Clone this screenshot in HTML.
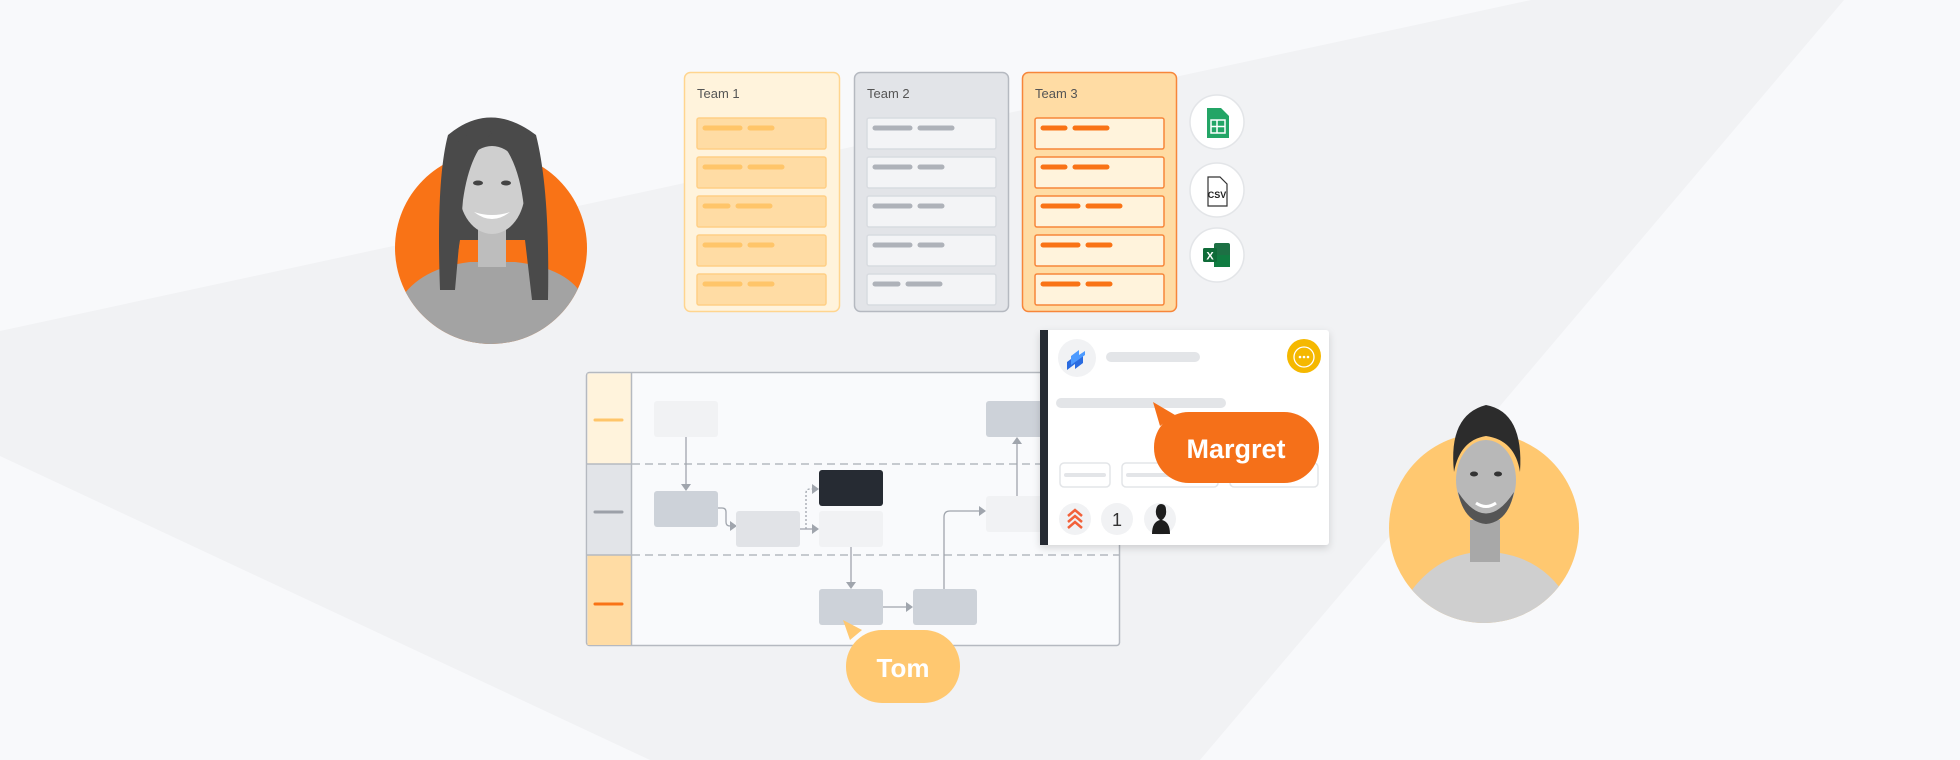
<!DOCTYPE html>
<html><head><meta charset="utf-8"><style>
html,body{margin:0;padding:0;background:#f8f9fb;}
svg{display:block}
text{font-family:"Liberation Sans",sans-serif}
</style></head><body>
<svg width="1960" height="760" viewBox="0 0 1960 760" xmlns="http://www.w3.org/2000/svg">
<defs>
<clipPath id="cw"><circle cx="491" cy="248" r="96"/><rect x="395" y="80" width="192" height="168"/></clipPath>
<clipPath id="cm"><circle cx="1484" cy="528" r="95"/><rect x="1389" y="380" width="190" height="148"/></clipPath>
<filter id="sh" x="-10%" y="-10%" width="120%" height="130%"><feDropShadow dx="0" dy="3" stdDeviation="4" flood-color="#000" flood-opacity="0.15"/></filter>
</defs>
<rect width="1960" height="760" fill="#f8f9fb"/>
<polygon points="0,331 1531,0 1844,0 1200,760 650,760 0,456" fill="#f1f2f4"/>

<!-- woman avatar -->
<circle cx="491" cy="248" r="96" fill="#f97316"/>
<g clip-path="url(#cw)">
<path d="M400,300 Q420,268 470,262 L515,262 Q570,268 585,300 L590,360 L395,360Z" fill="#a3a3a3"/>
<path d="M448,135 Q490,100 536,135 Q550,190 548,300 L532,300 L525,240 L460,240 L452,290 L440,290 Q436,180 448,135Z" fill="#4a4a4a"/>
<rect x="478" y="225" width="28" height="42" fill="#bdbdbd"/>
<ellipse cx="492" cy="190" rx="33" ry="44" fill="#cfcfcf"/>
<path d="M474,212 Q492,226 510,212 Q492,218 474,212Z" fill="#fff"/>
<ellipse cx="478" cy="183" rx="5" ry="2.5" fill="#444"/>
<ellipse cx="506" cy="183" rx="5" ry="2.5" fill="#444"/>
<path d="M455,145 Q475,125 494,132 Q470,150 463,200 L455,290 L445,290 Z" fill="#4a4a4a"/>
<path d="M530,145 Q515,125 490,132 Q516,150 523,200 L535,300 L546,300 Z" fill="#4a4a4a"/>
</g>

<!-- man avatar -->
<circle cx="1484" cy="528" r="95" fill="#ffc870"/>
<g clip-path="url(#cm)">
<path d="M1405,600 Q1430,560 1470,553 L1500,553 Q1545,560 1568,600 L1575,640 L1395,640Z" fill="#cfcfcf"/>
<rect x="1470" y="520" width="30" height="42" fill="#a8a8a8"/>
<ellipse cx="1486" cy="480" rx="30" ry="40" fill="#b8b8b8"/>
<path d="M1454,472 Q1448,415 1486,405 Q1524,412 1520,472 Q1515,440 1486,436 Q1460,440 1454,472Z" fill="#2c2c2c"/>
<path d="M1458,492 Q1486,535 1514,492 Q1508,522 1486,524 Q1464,522 1458,492Z" fill="#555"/>
<path d="M1476,503 Q1486,510 1496,503" stroke="#fff" stroke-width="3" fill="none"/>
<ellipse cx="1474" cy="474" rx="4" ry="2.5" fill="#333"/>
<ellipse cx="1498" cy="474" rx="4" ry="2.5" fill="#333"/>
</g>

<!-- Team columns -->
<rect x="684.5" y="72.5" width="155" height="239" rx="6" fill="#fff3dc" stroke="#ffd58f" stroke-width="1.5"/>
<text x="697" y="98" font-size="13" fill="#555">Team 1</text>
<rect x="854.5" y="72.5" width="154" height="239" rx="6" fill="#e2e4e8" stroke="#b5b9c0" stroke-width="1.5"/>
<text x="867" y="98" font-size="13" fill="#555">Team 2</text>
<rect x="1022.5" y="72.5" width="154" height="239" rx="6" fill="#ffdca4" stroke="#f7863a" stroke-width="1.5"/>
<text x="1035" y="98" font-size="13" fill="#555">Team 3</text>
<g stroke-linecap="round" stroke-width="5">
<g fill="#ffdca4" stroke="#ffcf85" stroke-width="1.5">
<rect x="697" y="118" width="129" height="31" rx="2"/>
<rect x="697" y="157" width="129" height="31" rx="2"/>
<rect x="697" y="196" width="129" height="31" rx="2"/>
<rect x="697" y="235" width="129" height="31" rx="2"/>
<rect x="697" y="274" width="129" height="31" rx="2"/>
</g>
<g stroke="#ffc569">
<line x1="705" y1="128" x2="740" y2="128"/><line x1="750" y1="128" x2="772" y2="128"/>
<line x1="705" y1="167" x2="740" y2="167"/><line x1="750" y1="167" x2="782" y2="167"/>
<line x1="705" y1="206" x2="728" y2="206"/><line x1="738" y1="206" x2="770" y2="206"/>
<line x1="705" y1="245" x2="740" y2="245"/><line x1="750" y1="245" x2="772" y2="245"/>
<line x1="705" y1="284" x2="740" y2="284"/><line x1="750" y1="284" x2="772" y2="284"/>
</g>
<g fill="#f3f4f6" stroke="#d8dbe0" stroke-width="1.5">
<rect x="867" y="118" width="129" height="31" rx="2"/>
<rect x="867" y="157" width="129" height="31" rx="2"/>
<rect x="867" y="196" width="129" height="31" rx="2"/>
<rect x="867" y="235" width="129" height="31" rx="2"/>
<rect x="867" y="274" width="129" height="31" rx="2"/>
</g>
<g stroke="#aeb2b9">
<line x1="875" y1="128" x2="910" y2="128"/><line x1="920" y1="128" x2="952" y2="128"/>
<line x1="875" y1="167" x2="910" y2="167"/><line x1="920" y1="167" x2="942" y2="167"/>
<line x1="875" y1="206" x2="910" y2="206"/><line x1="920" y1="206" x2="942" y2="206"/>
<line x1="875" y1="245" x2="910" y2="245"/><line x1="920" y1="245" x2="942" y2="245"/>
<line x1="875" y1="284" x2="898" y2="284"/><line x1="908" y1="284" x2="940" y2="284"/>
</g>
<g fill="#fff3dc" stroke="#f7863a" stroke-width="1.5">
<rect x="1035" y="118" width="129" height="31" rx="2"/>
<rect x="1035" y="157" width="129" height="31" rx="2"/>
<rect x="1035" y="196" width="129" height="31" rx="2"/>
<rect x="1035" y="235" width="129" height="31" rx="2"/>
<rect x="1035" y="274" width="129" height="31" rx="2"/>
</g>
<g stroke="#f97316">
<line x1="1043" y1="128" x2="1065" y2="128"/><line x1="1075" y1="128" x2="1107" y2="128"/>
<line x1="1043" y1="167" x2="1065" y2="167"/><line x1="1075" y1="167" x2="1107" y2="167"/>
<line x1="1043" y1="206" x2="1078" y2="206"/><line x1="1088" y1="206" x2="1120" y2="206"/>
<line x1="1043" y1="245" x2="1078" y2="245"/><line x1="1088" y1="245" x2="1110" y2="245"/>
<line x1="1043" y1="284" x2="1078" y2="284"/><line x1="1088" y1="284" x2="1110" y2="284"/>
</g>
</g>

<!-- file icons -->
<g fill="#fff" stroke="#e3e5e8" stroke-width="1.5">
<circle cx="1217" cy="122" r="27"/><circle cx="1217" cy="190" r="27"/><circle cx="1217" cy="255" r="27"/>
</g>
<path d="M1207,108 h14 l8,8 v22 h-22 z" fill="#23a566"/>
<rect x="1211" y="120" width="14" height="13" fill="none" stroke="#fff" stroke-width="1.5"/>
<line x1="1211" y1="126.5" x2="1225" y2="126.5" stroke="#fff" stroke-width="1.5"/>
<line x1="1217" y1="120" x2="1217" y2="133" stroke="#fff" stroke-width="1.5"/>
<path d="M1208,177 h12 l7,7 v22 h-19 z" fill="#fff" stroke="#333" stroke-width="1.2"/>
<text x="1217" y="198" font-size="9" text-anchor="middle" fill="#222" font-weight="bold">CSV</text>
<rect x="1214" y="243" width="16" height="24" rx="2" fill="#1d7044"/>
<rect x="1214" y="255" width="16" height="12" fill="#107c41"/>
<rect x="1203" y="248" width="14" height="14" rx="1.5" fill="#0f6b38"/>
<text x="1210" y="259.5" font-size="11" text-anchor="middle" fill="#fff" font-weight="bold">X</text>

<!-- swimlane -->
<rect x="586.5" y="372.5" width="533" height="273" rx="3" fill="#f9fafc" stroke="#b5b9c0" stroke-width="1.5"/>
<rect x="587.5" y="373.5" width="44" height="91" fill="#fff3dc"/>
<rect x="587.5" y="464" width="44" height="91" fill="#e2e4e8"/>
<rect x="587.5" y="555" width="44" height="90" fill="#ffdca4"/>
<line x1="631.5" y1="373" x2="631.5" y2="645" stroke="#b5b9c0" stroke-width="1.5"/>
<line x1="587" y1="464" x2="631" y2="464" stroke="#b5b9c0" stroke-width="1.5"/>
<line x1="587" y1="555" x2="631" y2="555" stroke="#b5b9c0" stroke-width="1.5"/>
<g stroke-linecap="round" stroke-width="3">
<line x1="595" y1="420" x2="622" y2="420" stroke="#ffc569"/>
<line x1="595" y1="512" x2="622" y2="512" stroke="#9ca0a8"/>
<line x1="595" y1="604" x2="622" y2="604" stroke="#f97316"/>
</g>
<line x1="632" y1="464" x2="1120" y2="464" stroke="#b5b9c0" stroke-width="1.5" stroke-dasharray="8,5"/>
<line x1="632" y1="555" x2="1120" y2="555" stroke="#b5b9c0" stroke-width="1.5" stroke-dasharray="8,5"/>

<g fill="none" stroke="#a0a5ad" stroke-width="1.3">
<line x1="686" y1="437" x2="686" y2="485"/>
<path d="M718,508 h4 q4,0 4,4 v10 q0,4 4,4 h2"/>
<line x1="800" y1="529" x2="813" y2="529"/>
<path d="M806,529 v-36 q0,-4 4,-4 h3" stroke-dasharray="2,2"/>
<line x1="851" y1="547" x2="851" y2="583"/>
<line x1="883" y1="607" x2="907" y2="607"/>
<path d="M944,589 v-72 q0,-6 6,-6 h30"/>
<line x1="1017" y1="496" x2="1017" y2="443"/>
</g>
<g fill="#a0a5ad">
<path d="M681,484 h10 l-5,7z"/>
<path d="M730,521 v10 l7,-5z"/>
<path d="M812,524 v10 l7,-5z"/>
<path d="M812,484 v10 l7,-5z"/>
<path d="M846,582 h10 l-5,7z"/>
<path d="M906,602 v10 l7,-5z"/>
<path d="M979,506 v10 l7,-5z"/>
<path d="M1012,444 h10 l-5,-7z"/>
</g>
<rect x="654" y="401" width="64" height="36" rx="3" fill="#f1f2f4"/>
<rect x="654" y="491" width="64" height="36" rx="3" fill="#cdd2d9"/>
<rect x="736" y="511" width="64" height="36" rx="3" fill="#e1e3e7"/>
<rect x="819" y="470" width="64" height="36" rx="3" fill="#262b33"/>
<rect x="819" y="511" width="64" height="36" rx="3" fill="#f1f2f4"/>
<rect x="986" y="401" width="64" height="36" rx="3" fill="#cdd2d9"/>
<rect x="986" y="496" width="64" height="36" rx="3" fill="#f1f2f4"/>
<rect x="819" y="589" width="64" height="36" rx="3" fill="#cdd2d9"/>
<rect x="913" y="589" width="64" height="36" rx="3" fill="#cdd2d9"/>

<!-- Tom -->
<path d="M843,620 L862,630 L850,640 Z" fill="#ffc870"/>
<rect x="846" y="630" width="114" height="73" rx="36" fill="#ffc870"/>
<text x="903" y="677" font-size="26" text-anchor="middle" fill="#fff" font-weight="bold">Tom</text>

<!-- card panel -->
<g filter="url(#sh)">
<rect x="1040" y="330" width="289" height="215" rx="3" fill="#fff"/>
</g>
<rect x="1040" y="330" width="8" height="215" fill="#262b33"/>
<circle cx="1077" cy="358" r="19" fill="#f1f2f4"/>
<path d="M1067,362 l8,-6 v5 l8,-6 v8 l-8,6 v-5 l-8,6z" fill="#2a6be0"/>
<path d="M1071,356 l8,-6 v5 l6,-4 v4 l-14,10z" fill="#4c9aff"/>
<rect x="1106" y="352" width="94" height="10" rx="5" fill="#e3e5e8"/>
<circle cx="1304" cy="356" r="17" fill="#f5b800"/>
<circle cx="1304" cy="357" r="10" fill="none" stroke="#fff" stroke-width="1.3"/>
<g fill="#fff"><circle cx="1300" cy="357" r="1.3"/><circle cx="1304" cy="357" r="1.3"/><circle cx="1308" cy="357" r="1.3"/></g>
<rect x="1056" y="398" width="170" height="10" rx="5" fill="#e3e5e8"/>
<rect x="1060" y="463" width="50" height="24" rx="4" fill="#fff" stroke="#e3e5e8" stroke-width="1.5"/>
<line x1="1066" y1="475" x2="1104" y2="475" stroke="#e3e5e8" stroke-width="4" stroke-linecap="round"/>
<rect x="1122" y="463" width="96" height="24" rx="4" fill="#fff" stroke="#e3e5e8" stroke-width="1.5"/>
<line x1="1128" y1="475" x2="1200" y2="475" stroke="#e3e5e8" stroke-width="4" stroke-linecap="round"/>
<rect x="1230" y="463" width="88" height="24" rx="4" fill="#fff" stroke="#e3e5e8" stroke-width="1.5"/>
<circle cx="1075" cy="519" r="16" fill="#f1f2f4"/>
<g fill="none" stroke="#f2613a" stroke-width="2.5"><path d="M1068,516 l7,-6 l7,6"/><path d="M1068,522 l7,-6 l7,6"/><path d="M1068,528 l7,-6 l7,6"/></g>
<circle cx="1117" cy="519" r="16" fill="#f1f2f4"/>
<text x="1117" y="526" font-size="18" text-anchor="middle" fill="#333">1</text>
<circle cx="1160" cy="519" r="16" fill="#f1f2f4"/>
<path d="M1152,534 q0,-12 8,-14 q-5,-4 -4,-10 q1,-6 5,-6 q5,0 5,6 q1,6 -4,10 q8,2 8,14z" fill="#1d1d1d"/>

<!-- Margret -->
<path d="M1153,402 L1175,415 L1160,426 Z" fill="#f57019"/>
<rect x="1154" y="412" width="165" height="71" rx="35" fill="#f57019"/>
<text x="1236" y="458" font-size="27" text-anchor="middle" fill="#fff" font-weight="bold">Margret</text>
</svg>
</body></html>
